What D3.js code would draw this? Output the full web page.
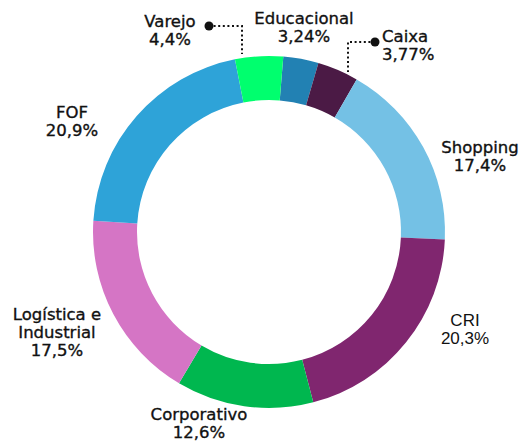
<!DOCTYPE html>
<html>
<head>
<meta charset="utf-8">
<script src="https://cdn.jsdelivr.net/npm/d3@7"></script>
<style>
  body { margin: 0; background: #fff; }
  svg { display: block; }
</style>
</head>
<body>
<div id="chart"></div>
<script>
// data, clockwise from the top
var categories = ["Educacional", "Caixa", "Shopping", "CRI", "Corporativo", "Logística e Industrial", "FOF", "Varejo"];
var shares = [3.24, 3.77, 17.4, 20.3, 12.6, 17.5, 20.9, 4.4];
var shareLabels = ["3,24%", "3,77%", "17,4%", "20,3%", "12,6%", "17,5%", "20,9%", "4,4%"];
var colors = ["#2281b3", "#4b1a45", "#74c1e5", "#80266f", "#00b74f", "#d575c5", "#2ea3d8", "#00ff6e"];

var width = 524, height = 441;
var cx = 269, cy = 232;
var outerR = 176, innerR = 132;

var svg = d3.select("#chart")
    .append("svg")
    .attr("width", width)
    .attr("height", height);

var data = categories.map((c, i) => ({ name: c, value: shares[i], label: shareLabels[i], color: colors[i] }));

var startDeg = 4.66;
var pie = d3.pie()
    .sort(null)
    .value(d => d.value)
    .startAngle(startDeg * Math.PI / 180)
    .endAngle((startDeg + 360) * Math.PI / 180);

var arc = d3.arc().innerRadius(innerR).outerRadius(outerR);

var g = svg.append("g").attr("transform", `translate(${cx},${cy})`);
g.selectAll("path")
    .data(pie(data))
    .join("path")
    .attr("d", arc)
    .attr("fill", d => d.data.color);

// label layout (text x, first baseline y, anchor)
var labelLayout = {
    "Educacional": { x: 304, y: 24, anchor: "middle" },
    "Caixa": { x: 382, y: 42, anchor: "start" },
    "Shopping": { x: 480, y: 153, anchor: "middle" },
    "CRI": { x: 465, y: 326, anchor: "middle", font: "Liberation Sans, Arial, sans-serif" },
    "Corporativo": { x: 199, y: 420, anchor: "middle" },
    "Logística e Industrial": { x: 57, y: 320, anchor: "middle", lines: ["Logística e", "Industrial"] },
    "FOF": { x: 72, y: 118, anchor: "middle" },
    "Varejo": { x: 170, y: 27, anchor: "middle" }
};

var lineH = 18.2;
data.forEach(d => {
    var l = labelLayout[d.name];
    var lines = (l.lines || [d.name]).concat([d.label]);
    var t = svg.append("text")
        .attr("text-anchor", l.anchor)
        .attr("font-family", l.font || "DejaVu Sans, sans-serif")
        .attr("font-size", l.font ? 17 : 16.5)
        .attr("fill", "#111")
        .attr("stroke", l.font ? "none" : "#111")
        .attr("stroke-width", 0.35);
    lines.forEach((s, i) => {
        t.append("tspan")
            .attr("x", l.x)
            .attr("y", l.y + i * lineH)
            .text(s);
    });
});

// callouts for the small slices
var callouts = [
    { dot: [209, 26], path: [[209, 26], [242, 26], [242, 54]] },
    { dot: [375, 42], path: [[375, 42], [348, 42], [348, 72]] }
];
callouts.forEach(c => {
    svg.append("path")
        .attr("d", d3.line()(c.path))
        .attr("fill", "none")
        .attr("stroke", "#111")
        .attr("stroke-width", 2)
        .attr("stroke-dasharray", "2,2.6");
    svg.append("circle")
        .attr("cx", c.dot[0])
        .attr("cy", c.dot[1])
        .attr("r", 4.5)
        .attr("fill", "#111");
});
</script>
</body>
</html>
